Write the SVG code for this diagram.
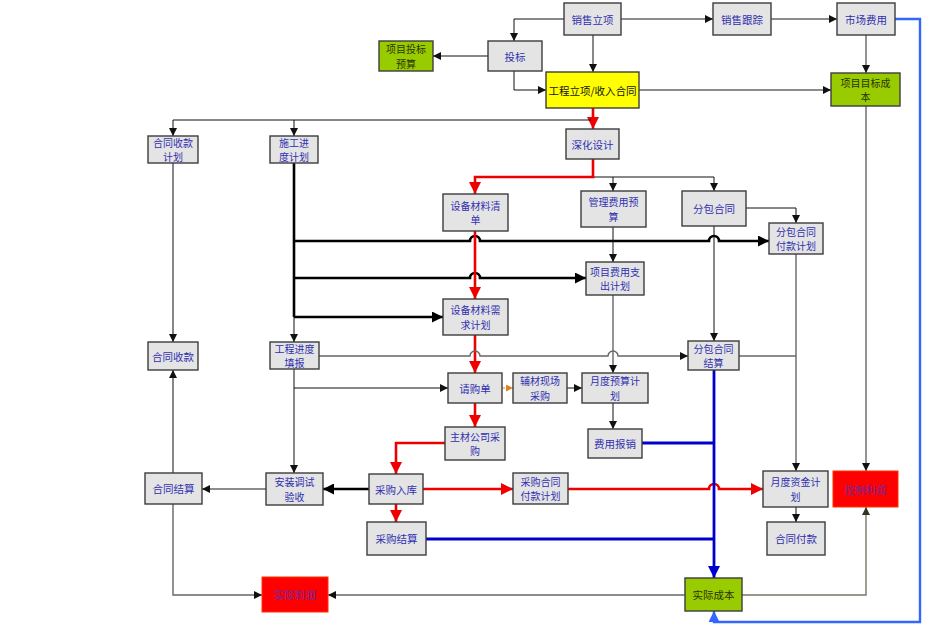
<svg xmlns="http://www.w3.org/2000/svg" width="936" height="632" viewBox="0 0 936 632">
<style>
.n rect{fill:#e4e4e4;stroke:#3c3c3c;stroke-width:1.4}
.n.g rect{fill:#99cc00}
.n.y rect{fill:#ffff00}
.n.r rect{fill:#ff0000;stroke:#ff3300;stroke-width:1}
text{font-family:"Noto Sans CJK SC","Noto Sans CJK JP",sans-serif;font-size:10.5px;fill:#3030b0;text-anchor:middle;dominant-baseline:central}
text.t2{font-size:10px}
.g text{fill:#2a3300}
.y text{fill:#111}
.r text{fill:#6a2ca8}
.c path{fill:none}
.k{stroke:#111;stroke-width:1}
.gr{stroke:#666;stroke-width:1.4}
.kt{stroke:#000;stroke-width:2.6}
.rd{stroke:#ee0000;stroke-width:2.6}
.bl{stroke:#0000cc;stroke-width:2.8}
.lb{stroke:#3366ff;stroke-width:2.4}
.og{stroke:#e08020;stroke-width:1.2;stroke-dasharray:3 2}
.ol{stroke:#777766;stroke-width:1.4}
</style>
<defs>
<marker id="ak" viewBox="0 0 10 10" refX="10" refY="5" markerWidth="9" markerHeight="8" markerUnits="userSpaceOnUse" orient="auto"><path d="M0,0L10,5L0,10z" fill="#111"/></marker>
<marker id="akt" viewBox="0 0 10 10" refX="10" refY="5" markerWidth="13" markerHeight="11" markerUnits="userSpaceOnUse" orient="auto"><path d="M0,0L10,5L0,10z" fill="#000"/></marker>
<marker id="ar" viewBox="0 0 10 10" refX="10" refY="5" markerWidth="12" markerHeight="12" markerUnits="userSpaceOnUse" orient="auto"><path d="M0,0L10,5L0,10z" fill="#ee0000"/></marker>
<marker id="ab" viewBox="0 0 10 10" refX="10" refY="5" markerWidth="13" markerHeight="12" markerUnits="userSpaceOnUse" orient="auto"><path d="M0,0L10,5L0,10z" fill="#0000cc"/></marker>
<marker id="alb" viewBox="0 0 10 10" refX="10" refY="5" markerWidth="11" markerHeight="11" markerUnits="userSpaceOnUse" orient="auto"><path d="M0,0L10,5L0,10z" fill="#3366ff"/></marker>
<marker id="ao" viewBox="0 0 10 10" refX="10" refY="5" markerWidth="8" markerHeight="7" markerUnits="userSpaceOnUse" orient="auto"><path d="M0,0L10,5L0,10z" fill="#e08020"/></marker>
<marker id="aol" viewBox="0 0 10 10" refX="10" refY="5" markerWidth="9" markerHeight="8" markerUnits="userSpaceOnUse" orient="auto"><path d="M0,0L10,5L0,10z" fill="#333322"/></marker>
</defs>
<rect width="936" height="632" fill="#fff"/>
<g id="connectors" class="c">
<path class="k" d="M564,19H514V41" marker-end="url(#ak)"/>
<path class="k" d="M593,35V72" marker-end="url(#ak)"/>
<path class="gr" d="M621,19H713" marker-end="url(#ak)"/>
<path class="gr" d="M771,19H837" marker-end="url(#ak)"/>
<path class="gr" d="M866,35V73" marker-end="url(#ak)"/>
<path class="gr" d="M639,90H831" marker-end="url(#ak)"/>
<path class="k" d="M488,56H433" marker-end="url(#ak)"/>
<path class="k" d="M514,71V90H546" marker-end="url(#ak)"/>
<path class="rd" d="M593,108V129" marker-end="url(#ar)"/>
<path class="k" d="M591,120H173V136" marker-end="url(#ak)"/>
<path class="k" d="M294,120V136" marker-end="url(#ak)"/>
<path class="rd" d="M593,159V177H475V194" marker-end="url(#ar)"/>
<path class="k" d="M594,177H714V191" marker-end="url(#ak)"/>
<path class="k" d="M613,177V191" marker-end="url(#ak)"/>
<path class="k" d="M746,208H796V223" marker-end="url(#ak)"/>
<path class="kt" d="M294,163V317"/>
<path class="kt" d="M294,241H470a5,5 0 0 1 10,0H709a5,5 0 0 1 10,0H769" marker-end="url(#akt)"/>
<path class="kt" d="M294,278H470a5,5 0 0 1 10,0H586" marker-end="url(#akt)"/>
<path class="kt" d="M294,317H443" marker-end="url(#akt)"/>
<path class="k" d="M294,317V342" marker-end="url(#ak)"/>
<path class="k" d="M173,163V342" marker-end="url(#ak)"/>
<path class="rd" d="M475,231V299" marker-end="url(#ar)"/>
<path class="k" d="M613,227V262" marker-end="url(#ak)"/>
<path class="k" d="M714,226V341" marker-end="url(#ak)"/>
<path class="rd" d="M475,335V373" marker-end="url(#ar)"/>
<path class="gr" d="M319,356H470a5,5 0 0 1 10,0H608a5,5 0 0 1 10,0H688" marker-end="url(#ak)"/>
<path class="gr" d="M613,295V373" marker-end="url(#ak)"/>
<path class="k" d="M294,369V473" marker-end="url(#ak)"/>
<path class="k" d="M294,388H448" marker-end="url(#ak)"/>
<path class="og" d="M502,388H513" marker-end="url(#ao)"/>
<path class="k" d="M567,388H582" marker-end="url(#ak)"/>
<path class="k" d="M613,403V429" marker-end="url(#ak)"/>
<path class="rd" d="M475,403V427" marker-end="url(#ar)"/>
<path class="rd" d="M445,443H396V474" marker-end="url(#ar)"/>
<path class="kt" d="M369,489H323" marker-end="url(#akt)"/>
<path class="gr" d="M266,489H202" marker-end="url(#ak)"/>
<path class="k" d="M173,473V370" marker-end="url(#ak)"/>
<path class="rd" d="M423,489H513" marker-end="url(#ar)"/>
<path class="rd" d="M568,489H709a5,5 0 0 1 10,0H763" marker-end="url(#ar)"/>
<path class="rd" d="M396,504V522" marker-end="url(#ar)"/>
<path class="bl" d="M426,539H714"/>
<path class="bl" d="M642,443H714"/>
<path class="bl" d="M714,370V578" marker-end="url(#ab)"/>
<path class="gr" d="M739,356H796"/>
<path class="gr" d="M796,254V471" marker-end="url(#ak)"/>
<path class="gr" d="M866,106V471" marker-end="url(#ak)"/>
<path class="k" d="M796,507V522" marker-end="url(#ak)"/>
<path class="ol" d="M742,595H866V507" marker-end="url(#aol)"/>
<path class="gr" d="M685,595H328" marker-end="url(#ak)"/>
<path class="gr" d="M173,504V595H262" marker-end="url(#ak)"/>
<path class="lb" d="M895,19H920V622H714V611" marker-end="url(#alb)"/>
</g>
<g id="n-xslx" class="n"><rect x="564" y="3" width="57" height="32"/><text x="592.5" y="19">销售立项</text></g>
<g id="n-xsgz" class="n"><rect x="713" y="3" width="58" height="32"/><text x="742" y="19">销售跟踪</text></g>
<g id="n-scfy" class="n"><rect x="837" y="3" width="58" height="32"/><text x="866" y="19">市场费用</text></g>
<g id="n-tb" class="n"><rect x="488" y="41" width="54" height="30"/><text x="515" y="56">投标</text></g>
<g id="n-xmtbys" class="n g"><rect x="379" y="41" width="54" height="30"/><text class="t2" x="406" y="48.75">项目投标</text><text class="t2" x="406" y="63.25">预算</text></g>
<g id="n-gclx" class="n y"><rect x="546" y="72" width="93" height="36"/><text x="592.5" y="90">工程立项/收入合同</text></g>
<g id="n-xmmbcb" class="n g"><rect x="831" y="73" width="69" height="33"/><text class="t2" x="865.5" y="82.25">项目目标成</text><text class="t2" x="865.5" y="96.75">本</text></g>
<g id="n-shsj" class="n"><rect x="566" y="129" width="53" height="30"/><text x="592.5" y="144">深化设计</text></g>
<g id="n-htskjh" class="n"><rect x="148" y="136" width="50" height="27"/><text class="t2" x="173" y="142.25">合同收款</text><text class="t2" x="173" y="156.75">计划</text></g>
<g id="n-sgjdjh" class="n"><rect x="270" y="136" width="48" height="27"/><text class="t2" x="294" y="142.25">施工进</text><text class="t2" x="294" y="156.75">度计划</text></g>
<g id="n-sbclqd" class="n"><rect x="443" y="194" width="65" height="37"/><text class="t2" x="475.5" y="205.25">设备材料清</text><text class="t2" x="475.5" y="219.75">单</text></g>
<g id="n-glfyys" class="n"><rect x="581" y="191" width="65" height="36"/><text class="t2" x="613.5" y="201.75">管理费用预</text><text class="t2" x="613.5" y="216.25">算</text></g>
<g id="n-fbht" class="n"><rect x="682" y="191" width="64" height="35"/><text x="714" y="208.5">分包合同</text></g>
<g id="n-fbhtfk" class="n"><rect x="769" y="223" width="54" height="31"/><text class="t2" x="796" y="231.25">分包合同</text><text class="t2" x="796" y="245.75">付款计划</text></g>
<g id="n-xmfyzc" class="n"><rect x="586" y="262" width="58" height="33"/><text class="t2" x="615" y="271.25">项目费用支</text><text class="t2" x="615" y="285.75">出计划</text></g>
<g id="n-sbclxq" class="n"><rect x="443" y="299" width="65" height="36"/><text class="t2" x="475.5" y="309.75">设备材料需</text><text class="t2" x="475.5" y="324.25">求计划</text></g>
<g id="n-htsk" class="n"><rect x="148" y="342" width="50" height="28"/><text x="173" y="356">合同收款</text></g>
<g id="n-gcjdtb" class="n"><rect x="270" y="342" width="49" height="27"/><text class="t2" x="294.5" y="348.25">工程进度</text><text class="t2" x="294.5" y="362.75">填报</text></g>
<g id="n-fbhtjs" class="n"><rect x="688" y="341" width="51" height="29"/><text class="t2" x="713.5" y="348.25">分包合同</text><text class="t2" x="713.5" y="362.75">结算</text></g>
<g id="n-qgd" class="n"><rect x="448" y="373" width="54" height="30"/><text x="475" y="388">请购单</text></g>
<g id="n-fcxc" class="n"><rect x="513" y="373" width="54" height="30"/><text class="t2" x="540" y="380.75">辅材现场</text><text class="t2" x="540" y="395.25">采购</text></g>
<g id="n-ydys" class="n"><rect x="582" y="373" width="66" height="30"/><text class="t2" x="615" y="380.75">月度预算计</text><text class="t2" x="615" y="395.25">划</text></g>
<g id="n-zcgs" class="n"><rect x="445" y="427" width="60" height="33"/><text class="t2" x="475" y="436.25">主材公司采</text><text class="t2" x="475" y="450.75">购</text></g>
<g id="n-fybx" class="n"><rect x="588" y="429" width="54" height="29"/><text x="615" y="443.5">费用报销</text></g>
<g id="n-htjs" class="n"><rect x="145" y="473" width="57" height="31"/><text x="173.5" y="488.5">合同结算</text></g>
<g id="n-aztsys" class="n"><rect x="266" y="473" width="57" height="32"/><text class="t2" x="294.5" y="481.75">安装调试</text><text class="t2" x="294.5" y="496.25">验收</text></g>
<g id="n-cgrk" class="n"><rect x="369" y="474" width="54" height="30"/><text x="396" y="489">采购入库</text></g>
<g id="n-cgjs" class="n"><rect x="367" y="522" width="59" height="33"/><text x="396.5" y="538.5">采购结算</text></g>
<g id="n-cghtfk" class="n"><rect x="513" y="473" width="55" height="31"/><text class="t2" x="540.5" y="481.25">采购合同</text><text class="t2" x="540.5" y="495.75">付款计划</text></g>
<g id="n-ydzj" class="n"><rect x="763" y="471" width="65" height="36"/><text class="t2" x="795.5" y="481.75">月度资金计</text><text class="t2" x="795.5" y="496.25">划</text></g>
<g id="n-kzlr" class="n r"><rect x="833" y="471" width="65" height="36"/><text x="865.5" y="489">控制利润</text></g>
<g id="n-htfk" class="n"><rect x="767" y="522" width="58" height="33"/><text x="796" y="538.5">合同付款</text></g>
<g id="n-sjlr" class="n r"><rect x="262" y="577" width="66" height="35"/><text x="295" y="594.5">实际利润</text></g>
<g id="n-sjcb" class="n g"><rect x="685" y="578" width="57" height="33"/><text x="713.5" y="594.5">实际成本</text></g>
</svg>
